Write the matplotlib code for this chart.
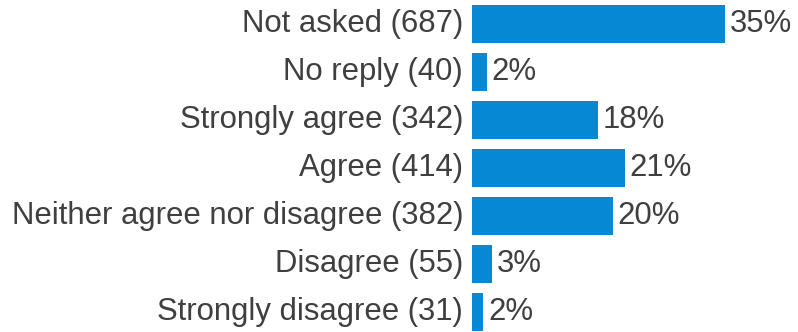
import matplotlib
matplotlib.use('Agg')
import matplotlib.pyplot as plt

# data
categories = ['Not asked', 'No reply', 'Strongly agree', 'Agree',
              'Neither agree nor disagree', 'Disagree', 'Strongly disagree']
counts = [687, 40, 342, 414, 382, 55, 31]

total = float(sum(counts))
pcts = [c / total * 100 for c in counts]

bar_color = '#0788d4'
text_color = '#3f3f3f'

fig = plt.figure(figsize=(7.98, 3.32), dpi=100)
ax = fig.add_axes([472 / 798., 0, 326 / 798., 1])

y = list(range(len(categories)))
ax.barh(y, pcts, height=0.8, color=bar_color)
ax.set_xlim(0, 326 / 7.19)
ax.set_ylim((332 - 24) / 48., -0.5)
ax.axis('off')

font = dict(family=['Liberation Sans', 'DejaVu Sans'], size=22.4, color=text_color)
for i, (cat, c, p) in enumerate(zip(categories, counts, pcts)):
    ax.annotate('%s (%d)' % (cat, c), xy=(0, i), xytext=(-9, 0),
                textcoords='offset pixels', ha='right', va='center', **font)
    ax.annotate('%d%%' % round(p), xy=(p, i), xytext=(5, 0),
                textcoords='offset pixels', ha='left', va='center', **font)

fig.savefig('out.png', dpi=100)
